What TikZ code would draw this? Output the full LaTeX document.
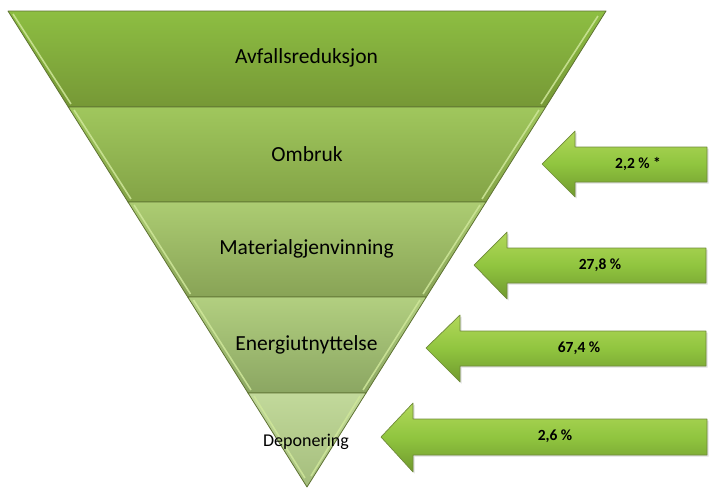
\documentclass[tikz,border=0pt]{standalone}
\usepackage{fontspec}
\setmainfont{Carlito}
\usetikzlibrary{shadows}
\definecolor{edgedark}{HTML}{5E7232}
\definecolor{bevel}{HTML}{CFE79A}
\definecolor{arrtop}{HTML}{B2D85A}
\definecolor{arrmid}{HTML}{90C53F}
\definecolor{arrbot}{HTML}{70992E}
\definecolor{arredge}{HTML}{6F8A3A}
\tikzset{
  band/.style={draw=edgedark, line width=0.8pt, line join=round},
  bevelline/.style={draw=bevel, line width=1.6pt, opacity=0.85},
  bandtext/.style={font=\fontsize{21.5}{26}\selectfont, text=black, inner sep=0pt},
  smalltext/.style={font=\fontsize{18}{22}\selectfont, text=black, inner sep=0pt},
  arrowshape/.style={draw=arredge, line width=0.7pt, line join=round,
     top color=arrtop, bottom color=arrbot, middle color=arrmid,
     drop shadow={shadow xshift=1.5pt, shadow yshift=-1.5pt, opacity=0.25}},
  arrowtext/.style={font=\bfseries\fontsize{15.5}{18}\selectfont, text=black, inner sep=0pt}
}
\begin{document}
\begin{tikzpicture}[x=1pt,y=-1pt]
\useasboundingbox (0,0) rectangle (719,488);
% inverted triangle geometry: centre x=307, top y=11, apex y=487
\coordinate (t0l) at (8,11);      \coordinate (t0r) at (606,11);
\coordinate (t1l) at (68.3,107);  \coordinate (t1r) at (545.7,107);
\coordinate (t2l) at (128,202);   \coordinate (t2r) at (486,202);
\coordinate (t3l) at (187.7,297); \coordinate (t3r) at (426.3,297);
\coordinate (t4l) at (248,393);   \coordinate (t4r) at (366,393);
\coordinate (apex) at (307,487);
% bands
\shade[band, top color={rgb,255:red,141;green,190;blue,66}, bottom color={rgb,255:red,118;green,152;blue,54}]
  (t0l) -- (t0r) -- (t1r) -- (t1l) -- cycle;
\shade[band, top color={rgb,255:red,160;green,199;blue,93}, bottom color={rgb,255:red,131;green,163;blue,70}]
  (t1l) -- (t1r) -- (t2r) -- (t2l) -- cycle;
\shade[band, top color={rgb,255:red,172;green,204;blue,114}, bottom color={rgb,255:red,136;green,163;blue,86}]
  (t2l) -- (t2r) -- (t3r) -- (t3l) -- cycle;
\shade[band, top color={rgb,255:red,178;green,207;blue,128}, bottom color={rgb,255:red,139;green,166;blue,98}]
  (t3l) -- (t3r) -- (t4r) -- (t4l) -- cycle;
\shade[band, top color={rgb,255:red,194;green,217;blue,155}, bottom color={rgb,255:red,164;green,189;blue,124}]
  (t4l) -- (t4r) -- (apex) -- cycle;
% bevel highlights along the slanted edges
\draw[bevelline] (13,14) -- (71,104);
\draw[bevelline] (74,110) -- (131,199);
\draw[bevelline] (134,205) -- (190.5,294);
\draw[bevelline] (193.5,300) -- (251,390);
\draw[bevelline] (254,396) -- (305,478);
\draw[bevelline] (598,16) -- (541,104);
\draw[bevelline] (539,110) -- (482,199);
\draw[bevelline] (480,205) -- (423,294);
\draw[bevelline] (420,300) -- (363,390);
\draw[bevelline] (360,396) -- (311,476);
% band labels
\node[bandtext] (l1) at (306.5,58) {Avfallsreduksjon};
\node[bandtext] (l2) at (307,154) {Ombruk};
\node[bandtext] (l3) at (306.5,249) {Materialgjenvinning};
\node[bandtext] (l4) at (306.5,345) {Energiutnyttelse};
\node[smalltext] (l5) at (306,442) {Deponering};
% arrows
\path[arrowshape] (542,164) -- (575,131) -- (575,147) -- (707,147) -- (707,182) -- (575,182) -- (575,197) -- cycle;
\path[arrowshape] (474,265) -- (507,232) -- (507,248) -- (706,248) -- (706,283) -- (507,283) -- (507,299) -- cycle;
\path[arrowshape] (426,348) -- (460,315) -- (460,331) -- (706,331) -- (706,366) -- (460,366) -- (460,382) -- cycle;
\path[arrowshape] (381,437) -- (413,403) -- (413,419) -- (707,419) -- (707,455) -- (413,455) -- (413,472) -- cycle;
% arrow labels
\node[arrowtext] (a1) at (638,164) {2,2 \% *};
\node[arrowtext] (a2) at (600,265) {27,8 \%};
\node[arrowtext] (a3) at (579,348) {67,4 \%};
\node[arrowtext] (a4) at (555,436) {2,6 \%};
\end{tikzpicture}
\end{document}
